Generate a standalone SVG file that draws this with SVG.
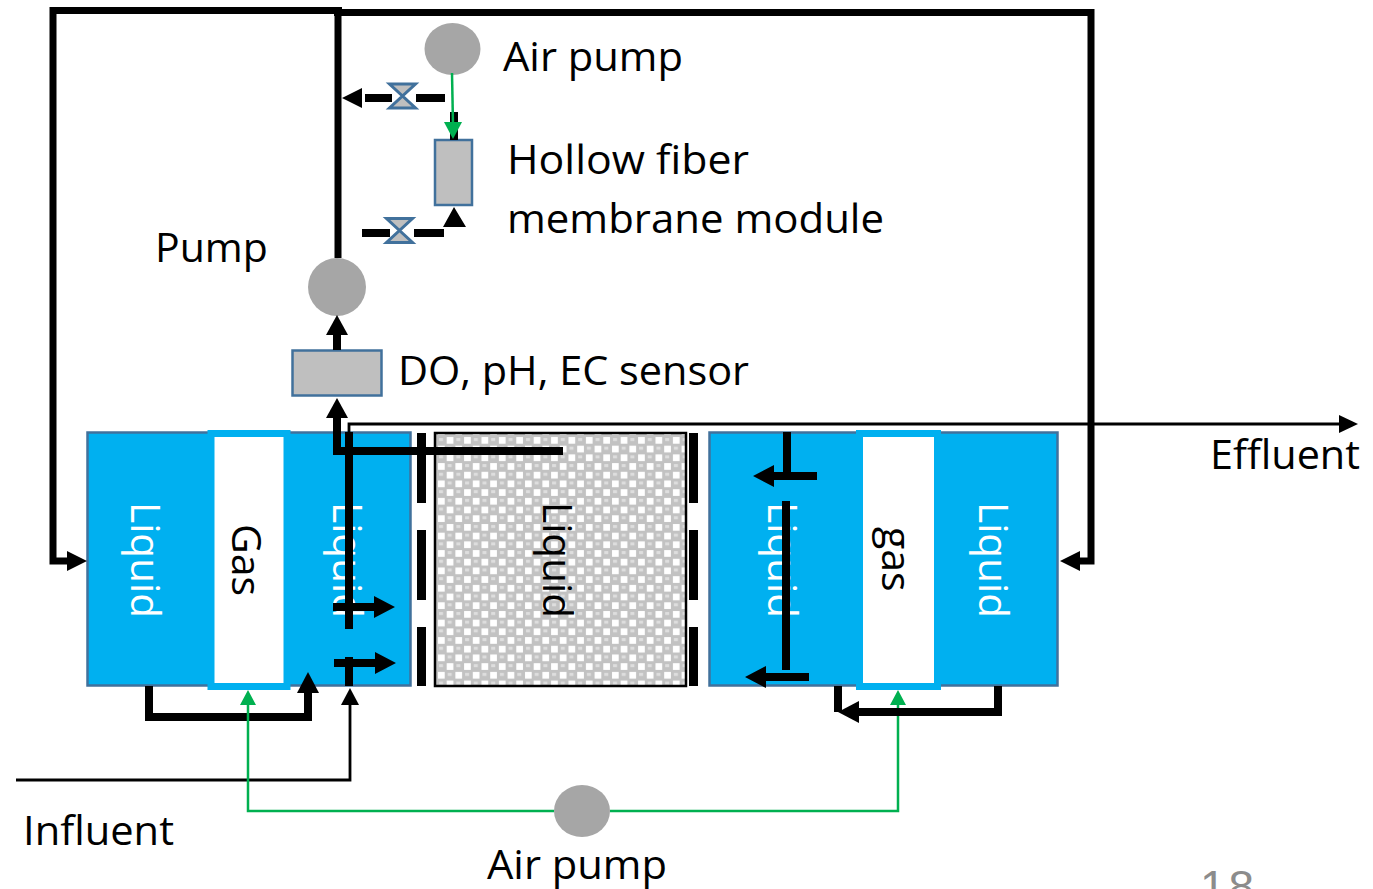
<svg xmlns="http://www.w3.org/2000/svg" width="1373" height="889" viewBox="0 0 1373 889">
<style>
text{font-family:"Open Sans","Noto Sans","Liberation Sans",sans-serif;font-size:41px;fill:#000}
.w{fill:#fff}
.blue{fill:#00b0f0;stroke:#41719c;stroke-width:2.5}
.gas{fill:#fff;stroke:#00b0f0;stroke-width:7}
.grey{fill:#bfbfbf;stroke:#41719c;stroke-width:2.5}
.pump{fill:#a6a6a6}
.th{fill:none;stroke:#000;stroke-width:8}
.tp{fill:none;stroke:#000;stroke-width:7}
.tn{fill:none;stroke:#000;stroke-width:2.800}
.gr{fill:none;stroke:#00b050;stroke-width:2.500}
.dash{fill:#000}
</style>
<defs>
<pattern id="chk" x="437" y="436" width="17.400" height="17.400" patternUnits="userSpaceOnUse">
<rect width="17.400" height="17.400" fill="#c2c2c2"/>
<rect x="9.700" y="1" width="6.700" height="6.700" fill="#fff"/>
<rect x="1" y="9.700" width="6.700" height="6.700" fill="#fff"/>
<rect x="2" y="2" width="4" height="3" fill="#dedede"/>
<rect x="10.700" y="10.700" width="4" height="3" fill="#dedede"/>
</pattern>
<g id="valve"><path d="M-13-12H13L-13 12H13Z" fill="#bfbfbf" stroke="#41719c" stroke-width="3"/></g>
</defs>
<g id="left-tank">
<rect class="blue" x="87.500" y="432.500" width="323" height="253"/>
<rect class="gas" x="211" y="433.500" width="76" height="253"/>
<text class="w" transform="translate(131,502) rotate(90)" textLength="116" lengthAdjust="spacingAndGlyphs">Liquid</text>
<text transform="translate(232,524) rotate(90)">Gas</text>
<text class="w" transform="translate(333,502) rotate(90)" textLength="116" lengthAdjust="spacingAndGlyphs">Liquid</text>
</g>
<g id="middle-tank">
<rect x="435" y="433" width="251" height="253" fill="url(#chk)" stroke="#000" stroke-width="2.500"/>
<text transform="translate(543,502) rotate(90)" textLength="116" lengthAdjust="spacingAndGlyphs">Liquid</text>
<path class="dash" d="M417 433h9v70h-9zM417 530h9v70h-9zM417 627h9v59h-9zM689 433h9v70h-9zM689 530h9v70h-9zM689 627h9v59h-9z"/>
</g>
<g id="right-tank">
<rect class="blue" x="709.500" y="432.500" width="348" height="253"/>
<rect class="gas" x="859.500" y="433.500" width="78" height="253"/>
<text transform="translate(882,527) rotate(90)">gas</text>
<text class="w" transform="translate(768,502) rotate(90)" textLength="116" lengthAdjust="spacingAndGlyphs">Liquid</text>
<text class="w" transform="translate(979,502) rotate(90)" textLength="116" lengthAdjust="spacingAndGlyphs">Liquid</text>
</g>
<g id="sensor"><rect class="grey" x="292.500" y="350.500" width="89" height="45"/></g>
<g id="pump"><circle class="pump" cx="337" cy="287" r="29"/></g>
<g id="air-pump-top"><ellipse class="pump" cx="452.500" cy="49" rx="28" ry="26"/></g>
<g id="air-pump-bottom"><ellipse class="pump" cx="582" cy="811" rx="28" ry="26"/></g>
<g id="module"><rect class="grey" x="435" y="140" width="37" height="65"/></g>
<g id="valve-top"><use href="#valve" x="402.500" y="96"/></g>
<g id="valve-bottom"><use href="#valve" x="399.500" y="230.500"/></g>
<g id="connectors">
<path class="tp" d="M338 258V11M342 10.500H53V561H70M334 12.500H1091V561H1078"/>
<path d="M87 561l-20-10v20zM1060 561l20-10v20z"/>
<path class="th" d="M365 98H392M416 98H445M362 233H390M414 233H444M454 112V140"/>
<path d="M342 98l20-10v20zM454 207l-11 20h23z"/>
<path class="th" d="M337 350V332"/><path d="M337 315l-11 20h22z"/>
<path class="gr" d="M452 73L453 125"/><path fill="#00b050" d="M453 139l-9-17h18z"/>
<path class="tn" d="M349 432V424H1342"/><path d="M1358 424l-19-9v18z"/>
<path class="th" d="M349 432V629M349 657V686M337 418V451H563"/>
<path d="M337 398l-11 20h22z"/>
<path class="th" d="M333 607H376M334 663H377M817 476H772M809 677H764M787 432V473M786 501V670"/>
<path d="M395 607l-21-11v22zM396 663l-21-11v22zM753 476l21-11v22zM745 677l21-11v22z"/>
<path class="th" d="M149 686V717H308V690"/><path d="M308 672l-11 21h22z"/>
<path class="tn" d="M16 780H350V705"/><path d="M350 688l-9 17h18z"/>
<path class="gr" d="M554 811H248V705M610 811H898V705"/>
<path fill="#00b050" d="M248 690l-8 15h16zM898 690l-8 15h16z"/>
<path class="th" d="M998 686V712H855M838 686V712"/><path d="M838 712l21-11v22z"/>
</g>
<g id="labels">
<text x="503" y="71" textLength="180" lengthAdjust="spacingAndGlyphs">Air pump</text>
<text x="507" y="174" textLength="242" lengthAdjust="spacingAndGlyphs">Hollow fiber</text>
<text x="507" y="233" textLength="377" lengthAdjust="spacingAndGlyphs">membrane  module</text>
<text x="155" y="262">Pump</text>
<text x="398" y="385" textLength="351" lengthAdjust="spacingAndGlyphs">DO, pH, EC sensor</text>
<text x="1210" y="469" textLength="150" lengthAdjust="spacingAndGlyphs">Effluent</text>
<text x="23" y="845" textLength="151" lengthAdjust="spacingAndGlyphs">Influent</text>
<text x="487" y="879" textLength="180" lengthAdjust="spacingAndGlyphs">Air pump</text>
<text x="1200" y="903" style="font-family:'Liberation Sans',sans-serif;font-size:46px;fill:#8c8c8c;letter-spacing:3px">18</text>
</g>
</svg>
